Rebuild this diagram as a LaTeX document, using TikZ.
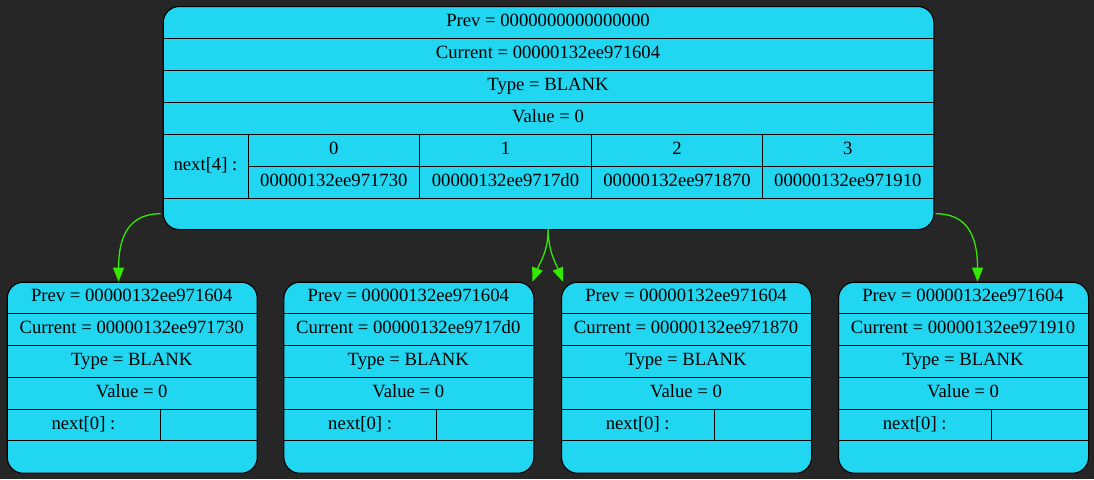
\documentclass[tikz,border=0pt]{standalone}
\usepackage{fontspec}
\setmainfont{Liberation Serif}
\usetikzlibrary{arrows.meta}
\definecolor{bgc}{HTML}{262626}
\definecolor{cyanfill}{HTML}{20D6F1}
\definecolor{linkgreen}{HTML}{35E800}
\tikzset{
  rec/.style={draw=black, fill=cyanfill, rounded corners=16pt, line width=1.1pt, inner sep=0pt, anchor=north west},
  txt/.style={font=\fontsize{18.67}{22}\selectfont, text=black, inner sep=0pt, text height=13pt, text depth=4.4pt},
  sep/.style={draw=black, line width=1pt},
  link/.style={draw=linkgreen, line width=1.3pt, -{Triangle[length=14pt,width=11pt]}}
}
\newcommand\leafnode[3]{%
  \node[rec, minimum width=250pt, minimum height=191pt] (#1) at (#2,-281.7) {};
  \foreach \yy in {313.5,345.3,377.2,409,440.8} {\draw[sep] (#2,-\yy) -- ++(250,0);}
  \draw[sep] (#2+153.5,-409) -- (#2+153.5,-440.8);
  \node[txt] (#1-prev) at (#2+125,-297.6) {Prev = 00000132ee971604};
  \node[txt] (#1-cur) at (#2+125,-329.4) {Current = #3};
  \node[txt] (#1-type) at (#2+125,-361.2) {Type = BLANK};
  \node[txt] (#1-val) at (#2+125,-393.1) {Value = 0};
  \node[txt] (#1-next) at (#2+76.75,-425) {next[0] :};
}
\begin{document}
\begin{tikzpicture}[x=1pt,y=1pt]
\fill[bgc] (0,0) rectangle (1094,-479);
\useasboundingbox (0,0) rectangle (1094,-479);
% top node
\node[rec, minimum width=770.6pt, minimum height=223pt] (top) at (162.7,-6) {};
\foreach \yy in {38,70,102,134,198} {\draw[sep] (162.7,-\yy) -- (933.3,-\yy);}
\draw[sep] (248.3,-166) -- (933.3,-166);
\foreach \xx in {248.3,419.3,591.7,762.3} {\draw[sep] (\xx,-134) -- (\xx,-198);}
\node[txt] (tprev) at (548,-22) {Prev = 0000000000000000};
\node[txt] (tcur) at (548,-54) {Current = 00000132ee971604};
\node[txt] (ttype) at (548,-86) {Type = BLANK};
\node[txt] (tval) at (548,-118) {Value = 0};
\node[txt] (tnext) at (205.5,-166) {next[4] :};
\node[txt] (i0) at (333.8,-150) {0};
\node[txt] (i1) at (505.5,-150) {1};
\node[txt] (i2) at (677,-150) {2};
\node[txt] (i3) at (847.8,-150) {3};
\node[txt] (a0) at (333.8,-182) {00000132ee971730};
\node[txt] (a1) at (505.5,-182) {00000132ee9717d0};
\node[txt] (a2) at (677,-182) {00000132ee971870};
\node[txt] (a3) at (847.8,-182) {00000132ee971910};
\node[inner sep=0pt, minimum width=770.6pt, minimum height=31pt, anchor=north west] (topbot) at (162.7,-198) {};
% leaves
\leafnode{n1}{6.7}{00000132ee971730}
\leafnode{n2}{283.3}{00000132ee9717d0}
\leafnode{n3}{561}{00000132ee971870}
\leafnode{n4}{838}{00000132ee971910}
% links
\draw[link] ([xshift=-2pt]topbot.west) .. controls +(-32,0) and +(0,45) .. ([xshift=-13.7pt]n1.north);
\draw[link] (topbot.south) .. controls +(0,-22) and +(7,18) .. ([xshift=-2pt]n2.north east);
\draw[link] (topbot.south) .. controls +(0,-22) and +(-7,18) .. ([xshift=2pt]n3.north west);
\draw[link] ([xshift=2pt]topbot.east) .. controls +(32,0) and +(0,45) .. ([xshift=14pt]n4.north);
\end{tikzpicture}
\end{document}
